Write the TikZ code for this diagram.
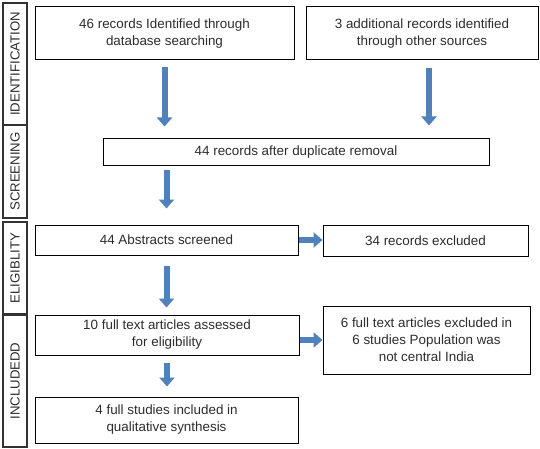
\documentclass[tikz,border=0pt]{standalone}
\usepackage{fontspec}
\setmainfont{Liberation Sans}
\usepackage{xcolor}
\usetikzlibrary{arrows.meta, positioning}
\definecolor{arrblue}{RGB}{79,129,189}
\definecolor{txtgray}{RGB}{45,45,45}
\tikzset{
  %% Flow box
  flowbox/.style={
    rectangle, draw=black, fill=white, text=txtgray,
    align=center, inner sep=2pt, line width=1pt,
    font=\fontsize{13.4}{17}\selectfont
  },
  %% Phase label on the left
  phase/.style={
    rectangle, draw=black!80, text=txtgray, rotate=90,
    minimum height=24pt, inner sep=0pt, line width=1.3pt,
    font=\fontsize{13.2}{16}\selectfont
  },
  %% Block arrow
  barr/.style={
    draw=arrblue, line width=6pt,
    -{Triangle[length=9pt,width=15pt]}
  },
}

\begin{document}
\begin{tikzpicture}[x=1pt, y=-1pt]

  \useasboundingbox[fill=white] (0,0) rectangle (540,449);

  %% phases
  \node[phase, minimum width=122pt] (ident) at (15,64)    {IDENTIFICATION};
  \node[phase, minimum width=93pt]  (screen) at (15,171.5) {SCREENING};
  \node[phase, minimum width=92pt]  (elig) at (15,268)    {ELIGIBLITY};
  \node[phase, minimum width=132pt] (incl) at (15,381)    {INCLUDEDD};

  %% boxes
  \node[flowbox, minimum width=259pt, minimum height=53pt] (db) at (164.5,33.5)
       {46 records Identified through\\database searching};
  \node[flowbox, minimum width=232pt, minimum height=53pt] (other) at (422,33.5)
       {3 additional records identified\\through other sources};
  \node[flowbox, minimum width=386pt, minimum height=27pt] (dup) at (296,152.5)
       {44 records after duplicate removal};
  \node[flowbox, minimum width=263pt, minimum height=30pt] (abs) at (166.5,240)
       {44 Abstracts screened};
  \node[flowbox, minimum width=205pt, minimum height=31pt] (excl) at (425.5,240.5)
       {34 records excluded};
  \node[flowbox, minimum width=264pt, minimum height=40pt] (full) at (167,335)
       {10 full text articles assessed\\for eligibility};
  \node[flowbox, minimum width=207pt, minimum height=68pt] (fexcl) at (426.5,340)
       {6 full text articles excluded in\\6 studies Population was\\not central India};
  \node[flowbox, minimum width=263pt, minimum height=46pt] (final) at (166.5,420)
       {4 full studies included in\\qualitative synthesis};

  %% arrows
  \draw[barr, shorten <=7pt, shorten >=12pt] (db.south) -- (db.south |- dup.north);
  \draw[barr, shorten <=8pt, shorten >=13pt] ([xshift=7pt]other.south)
       -- ([xshift=7pt]other.south |- dup.north);
  \draw[barr, shorten <=4pt, shorten >=16pt] (abs.north |- dup.south) -- (abs.north);
  \draw[barr, shorten <=10pt, shorten >=7pt] (abs.south) -- (abs.south |- full.north);
  \draw[barr, shorten <=7pt, shorten >=10pt] (full.south) -- (full.south |- final.north);
  \draw[barr] (abs.east) -- (abs.east -| excl.west);
  \draw[barr] (full.east |- fexcl.west) -- (fexcl.west);

\end{tikzpicture}
\end{document}
